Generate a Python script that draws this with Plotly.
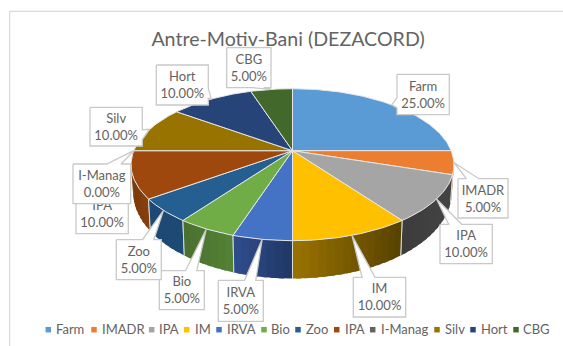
import math
import plotly.graph_objects as go

categories = ["Farm", "IMADR", "IPA", "IM", "IRVA", "Bio", "Zoo", "IPA", "I-Manag", "Silv", "Hort", "CBG"]
values = [25, 5, 10, 10, 5, 5, 5, 10, 0, 10, 10, 5]
colors = ["#5B9BD5", "#ED7D31", "#A5A5A5", "#FFC000", "#4472C4", "#70AD47",
          "#255E91", "#9E480E", "#636363", "#997300", "#264478", "#43682B"]
title_text = "Antre-Motiv-Bani (DEZACORD)"

# layout only: wall gradient (left, right) per slice, label boxes (x0,y0,x1,y1), legend positions
wall_shades = {1: ("#b85f22", "#b85f22"), 2: ("#3c3c3c", "#444444"), 3: ("#9a7300", "#574200"),
               4: ("#2f4c8f", "#203864"), 5: ("#4a7030", "#548235"), 6: ("#1c4a74", "#1c4a74"),
               7: ("#7a3a0b", "#8a3f0c")}
boxes = [(397, 74.3, 449.3, 114.7), (458, 178.7, 508, 218), (440, 224.3, 492.3, 263.7),
         (353.3, 277.3, 405.7, 317), (218.3, 280.3, 263.3, 321.3), (159.3, 270.7, 204.3, 309.7),
         (116.3, 239.7, 161.3, 279.7), (76, 194, 128.3, 233.7), (73, 164, 130.7, 203.7),
         (90, 107.3, 142.3, 146), (156.3, 65, 208.3, 105), (226.7, 47.7, 271, 87.7)]
legend_marker_x = [48.3, 94, 151.7, 186.7, 219, 264, 298, 336.7, 372.7, 437, 473, 516]
legend_text_x = [56, 102, 159, 195, 227, 271, 306, 345, 381, 445, 481, 523]

CX, CY, A, B, K = 292.5, 150.7, 73.4, 158.7, 0.1842
BOT_CY, BOT_SY, BOT_SX = 176.0, 1.14, 0.987
GREY = "#636363"


def top_pt(t):
    X, Y = math.sin(math.radians(t)), math.cos(math.radians(t))
    d = 1 + K * Y
    return CX + B * X / d, CY - A * Y / d


def bot_pt(t):
    X, Y = math.sin(math.radians(t)), math.cos(math.radians(t))
    d = 1 + K * Y
    return CX + BOT_SX * B * X / d, BOT_CY - BOT_SY * A * Y / d


def arc(a, b, fn, step=1.0):
    n = max(2, int(abs(b - a) / step) + 1)
    return [fn(a + (b - a) * i / (n - 1)) for i in range(n)]


def hex_mix(c1, c2, f):
    p = [int(c1[i:i + 2], 16) for i in (1, 3, 5)]
    q = [int(c2[i:i + 2], 16) for i in (1, 3, 5)]
    return "#%02x%02x%02x" % tuple(round(p[i] + (q[i] - p[i]) * f) for i in range(3))


def poly(points, fill, line=None, width=0.0):
    xs = [p[0] for p in points] + [points[0][0]]
    ys = [p[1] for p in points] + [points[0][1]]
    return go.Scatter(x=xs, y=ys, mode="lines", fill="toself", fillcolor=fill,
                      line=dict(color=line or fill, width=width),
                      hoverinfo="skip", showlegend=False)


fig = go.Figure()

# cumulative angles, clockwise from the top
total = sum(values)
edges = [0.0]
for v in values:
    edges.append(edges[-1] + 360.0 * v / total)

T_MIN, T_MAX = 100.6, 259.4

# side walls, outside in so the front ones lie on top
order = sorted(range(len(values)), key=lambda i: -abs((edges[i] + edges[i + 1]) / 2 - 180))
for i in order:
    a, b = max(edges[i], T_MIN), min(edges[i + 1], T_MAX)
    if b <= a or values[i] == 0:
        continue
    left, right = wall_shades.get(i, (colors[i], colors[i]))
    n = max(2, int((b - a) / 2.5))
    # strips overlap the next one so no background shows between them
    for s in range(n):
        t0, t1 = a + (b - a) * s / n, a + (b - a) * (s + 1) / n
        f = (top_pt((t0 + t1) / 2)[0] - top_pt(b)[0]) / ((top_pt(a)[0] - top_pt(b)[0]) or 1)
        col = hex_mix(left, right, f)
        pts = arc(t0, min(t1 + 1.5, b), top_pt, 0.5) + arc(min(t1 + 1.5, b), t0, bot_pt, 0.5)
        fig.add_trace(poly(pts, col, col, 0))
    for t in (a, b):
        if T_MIN < t < T_MAX:
            p, q = top_pt(t), bot_pt(t)
            fig.add_trace(go.Scatter(x=[p[0], q[0]], y=[p[1], q[1]], mode="lines",
                                     line=dict(color="#d9d9d9", width=1),
                                     hoverinfo="skip", showlegend=False))

# top face
for i in range(len(values)):
    if values[i] == 0:
        continue
    pts = [(CX, CY)] + arc(edges[i], edges[i + 1], top_pt)
    fig.add_trace(poly(pts, colors[i], "#e6e6e6", 1))

# callout labels
for i, box in enumerate(boxes):
    x0, y0, x1, y1 = box
    w, h = x1 - x0, y1 - y0
    tip = top_pt((edges[i] + edges[i + 1]) / 2)
    dx, dy = (tip[0] - (x0 + x1) / 2) / w, (tip[1] - (y0 + y1) / 2) / h
    if dx >= 0:
        hb = (x0 + w * 7 / 12, x0 + w * 10 / 12)
    else:
        hb = (x0 + w * 2 / 12, x0 + w * 5 / 12)
    if dy >= 0:
        vb = (y0 + h * 7 / 12, y0 + h * 10 / 12)
    else:
        vb = (y0 + h * 2 / 12, y0 + h * 5 / 12)
    pts = [(x0, y0)]
    if abs(dy) >= abs(dx) and dy < 0:
        pts += [(hb[0], y0), tip, (hb[1], y0)]
    pts += [(x1, y0)]
    if abs(dx) > abs(dy) and dx > 0:
        pts += [(x1, vb[0]), tip, (x1, vb[1])]
    pts += [(x1, y1)]
    if abs(dy) >= abs(dx) and dy > 0:
        pts += [(hb[1], y1), tip, (hb[0], y1)]
    pts += [(x0, y1)]
    if abs(dx) > abs(dy) and dx < 0:
        pts += [(x0, vb[1]), tip, (x0, vb[0])]
    fig.add_trace(poly(pts, "#ffffff", "#c9c9c9", 1.3))
    fig.add_trace(go.Scatter(x=[(x0 + x1) / 2], y=[(y0 + y1) / 2 + 1.5], mode="text",
                             text=[f"{categories[i]}<br>{values[i]:.2f}%"],
                             textposition="middle center",
                             textfont=dict(family="Lato", size=13, color=GREY),
                             hoverinfo="skip", showlegend=False))

# legend row
LEG_Y = 329.7
fig.add_trace(go.Scatter(x=legend_marker_x, y=[LEG_Y] * len(categories), mode="markers",
                         marker=dict(symbol="square", size=5.5, color=colors),
                         hoverinfo="skip", showlegend=False))
fig.add_trace(go.Scatter(x=legend_text_x, y=[LEG_Y + 1] * len(categories), mode="text",
                         text=categories, textposition="middle right",
                         textfont=dict(family="Lato", size=13, color=GREY),
                         hoverinfo="skip", showlegend=False))

# chart-area frame (left and top edges only are in view)
frame = [dict(type="line", xref="x", yref="y", x0=9.7, y0=346, x1=9.7, y1=11.3,
              line=dict(color="#d9d9d9", width=1.2)),
         dict(type="line", xref="x", yref="y", x0=9.7, y0=11.3, x1=563, y1=11.3,
              line=dict(color="#d9d9d9", width=1.2))]

fig.update_layout(
    width=563, height=346, margin=dict(l=0, r=0, t=0, b=0),
    paper_bgcolor="white", plot_bgcolor="white", showlegend=False, shapes=frame,
    title=dict(text=title_text, x=288 / 563, y=1 - 39 / 346, xanchor="center", yanchor="middle",
               xref="paper", yref="paper", font=dict(family="Lato", size=19.6, color=GREY)),
    xaxis=dict(range=[0, 563], visible=False, fixedrange=True),
    yaxis=dict(range=[346, 0], visible=False, fixedrange=True),
)
fig.write_html("out.html", config=dict(displayModeBar=False),
               post_script="document.body.style.margin='0';document.body.style.overflow='hidden';")
